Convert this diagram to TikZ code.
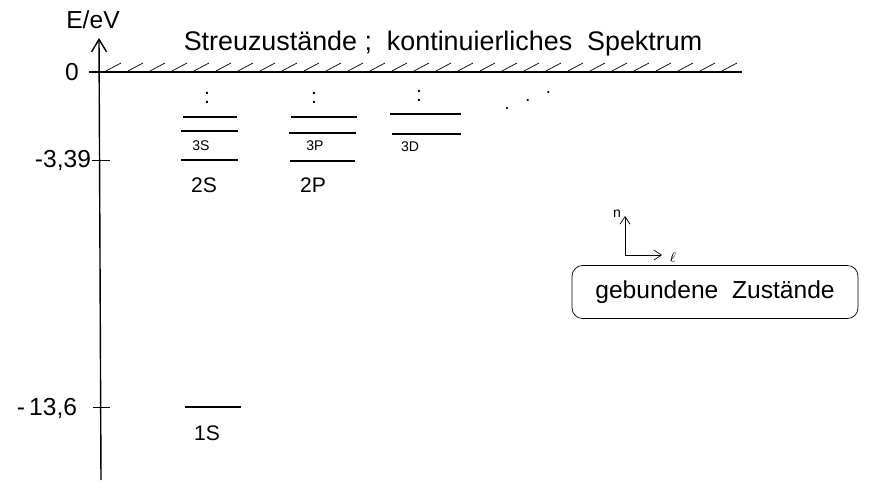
\documentclass[tikz,border=0pt]{standalone}
\usepackage{fontspec}
\setmainfont{Liberation Sans}
\usetikzlibrary{arrows.meta,positioning}
\tikzset{
  achse/.style={thick,-{Straight Barb[length=2.5mm,width=3mm]}},
  niveau/.style={thick},
  strich/.style={thin},
  klein/.style={font=\fontsize{8}{9}\selectfont,inner sep=1pt},
  mittel/.style={font=\fontsize{12}{14}\selectfont,inner sep=1pt},
  gross/.style={font=\fontsize{14}{16}\selectfont,inner sep=1pt},
  kasten/.style={draw,rounded corners=6pt,minimum width=57.2mm,minimum height=10.6mm,
                 font=\fontsize{14}{16}\selectfont},
  pfeil/.style={-{Straight Barb[length=1.5mm,width=2mm]}},
}

\begin{document}
\begin{tikzpicture}[x=0.02cm,y=-0.02cm]
  \useasboundingbox (0,0) rectangle (875,488);
  % Energieachse
  \coordinate (unten) at (101,480);
  \coordinate (oben) at (99,38);
  \draw[achse] (unten) -- (oben);
  \node[gross] (einheit) at (93,20) {E/eV};
  % Kontinuum
  \coordinate (nullL) at (89,72);
  \coordinate (nullR) at (742,72);
  \draw[thick] (nullL) -- (nullR);
  \foreach \x in {106,128,...,730} \draw[strich] (\x,71) -- ++(15,-8);
  \node[font=\fontsize{15.3}{18}\selectfont,inner sep=1pt] (streu) at (443,44)
    {Streuzustände ;\ \ kontinuierliches\ \ Spektrum};
  % Skala
  \node[gross] (null) at (72,72) {0};
  \node[gross] (e2) at (63,160) {-3,39};
  \node[gross] (e1) at (47,408) {-\,13,6};
  \draw (92,160) -- (110,160);
  \draw (93,407) -- (110,407);
  % S-Niveaus
  \draw[niveau] (183,117) -- (237,117);
  \draw[niveau] (181,131) -- (238,131);
  \draw[niveau] (181,160) -- (238,160);
  \draw[niveau] (185,407) -- (241,407);
  \node[mittel] (d1) at (207,98) {:};
  \node[klein] (n3s) at (201,146) {3S};
  \node[mittel] (n2s) at (204,185) {2S};
  \node[mittel] (n1s) at (207,433) {1S};
  % P-Niveaus
  \draw[niveau] (291,117) -- (357,117);
  \draw[niveau] (289,133) -- (356,133);
  \draw[niveau] (290,161) -- (355,161);
  \node[mittel] (d2) at (314,98) {:};
  \node[klein] (n3p) at (315,146) {3P};
  \node[mittel] (n2p) at (313,185) {2P};
  % D-Niveaus
  \draw[niveau] (390,114) -- (461,114);
  \draw[niveau] (392,134) -- (461,134);
  \node[mittel] (d3) at (419,96) {:};
  \node[klein] (n3d) at (410,147) {3D};
  \node[mittel,rotate=22] (weiter) at (528,101) {$\cdot\ \ \cdot\ \ \cdot$};
  % n-l Richtung
  \coordinate (ecke) at (625,255);
  \coordinate (nspitze) at (625,216);
  \coordinate (lspitze) at (662,255);
  \draw[pfeil] (ecke) -- (nspitze);
  \draw[pfeil] (ecke) -- (lspitze);
  \node[klein] (nlab) at (617,214) {n};
  \node[klein] (llab) at (673,258) {$\ell$};
  % gebundene Zustaende
  \node[kasten] (gebunden) at (715,292) {gebundene\ \ Zustände};
\end{tikzpicture}
\end{document}
